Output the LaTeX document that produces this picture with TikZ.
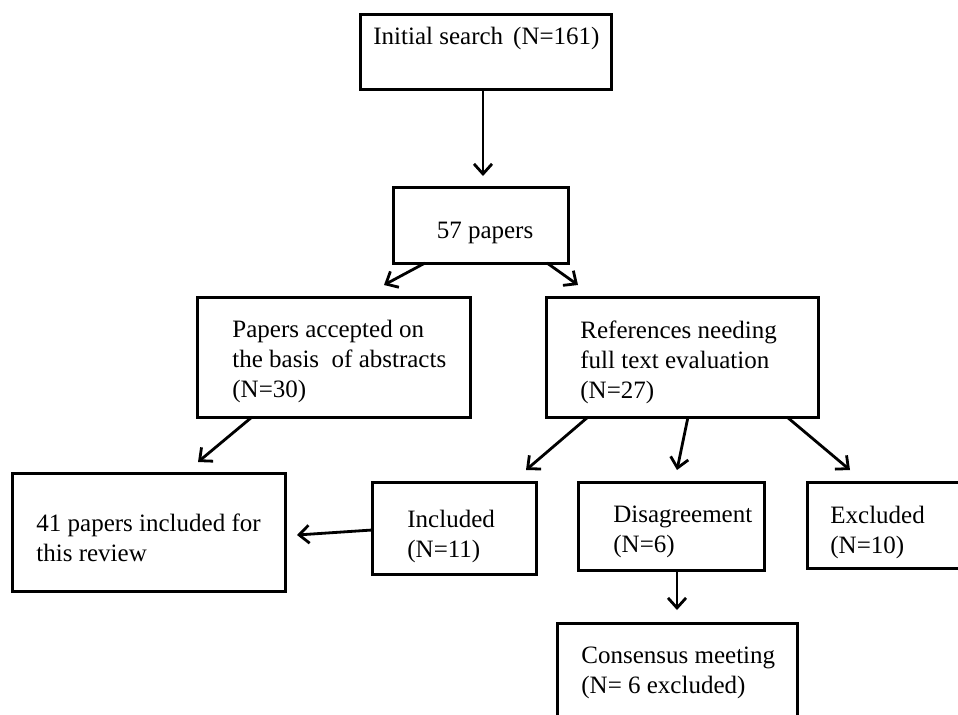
\documentclass[tikz,border=0pt]{standalone}
\usepackage{fontspec}
\setmainfont{Liberation Serif}
\usetikzlibrary{arrows.meta,positioning}

\begin{document}
\begin{tikzpicture}[x=0.5pt,y=-0.5pt,
  font=\fontsize{12.5}{15}\selectfont,
  box/.style={draw,line width=1.5pt,rectangle,inner sep=0pt,outer sep=0pt,anchor=north west},
  txt/.style={inner sep=0pt,align=left,anchor=west},
  arr/.style={-{Straight Barb[length=5pt,width=9pt]},line width=1.4pt}]
  \useasboundingbox (0,0) rectangle (958,714);
  \clip (0,0) rectangle (958,714);
  % boxes: name/left/top/width/height (px)
  \foreach \n/\x/\y/\w/\h in {
    init/360/14/251/75,
    p57/393/187/175/76,
    accepted/197/297/273/120,
    fulltext/546/297/272/120,
    review/12/473/273/118,
    incl/372/482/164/92,
    disagree/578/482/186/88,
    excl/807/482/183/86,
    consensus/557/623/240/110
  }{
    \node[box,minimum width={\w*0.5pt},minimum height={\h*0.5pt}] (\n) at (\x,\y) {};
  }
  % texts
  \node[txt] (tinit) at (373,38) {Initial search\hspace{0.4em}(N=161)};
  \node (tp57) at (485,233) {57 papers};
  \node[txt] (taccepted) at (232,361) {Papers accepted on\\the basis~ of abstracts\\(N=30)};
  \node[txt] (tfulltext) at (580,362) {References needing\\full text evaluation\\(N=27)};
  \node[txt] (treview) at (36,538) {41 papers included for\\this review};
  \node[txt] (tincl) at (407,536) {Included\\(N=11)};
  \node[txt] (tdisagree) at (613,532) {Disagreement\\(N=6)};
  \node[txt] (texcl) at (830,532) {Excluded\\(N=10)};
  \node[txt] (tconsensus) at (581,673) {Consensus meeting\\(N= 6 excluded)};
  % connectors
  \draw[arr] ([xshift=-1.25pt]init.south) -- ([shift={(90,-11)}]p57.north west);
  \draw[arr] ([shift={(32,0)}]p57.south west) -- ([shift={(187,-12)}]accepted.north west);
  \draw[arr] ([shift={(-21,0)}]p57.south east) -- ([shift={(32,-12)}]fulltext.north west);
  \draw[arr] ([shift={(55,0)}]accepted.south west) -- ([shift={(186,-11)}]review.north west);
  \draw[arr] ([shift={(42,0)}]fulltext.south west) -- ([shift={(-10,-12)}]incl.north east);
  \draw[arr] ([shift={(142,0)}]fulltext.south west) -- ([shift={(99,-12)}]disagree.north west);
  \draw[arr] ([shift={(-31,0)}]fulltext.south east) -- ([shift={(43,-12)}]excl.north west);
  \draw[arr] ([shift={(0,2)}]incl.west) -- ([shift={(12,3)}]review.east);
  \draw[arr] ([shift={(99,0)}]disagree.south west) -- ([shift={(120,-13)}]consensus.north west);
\end{tikzpicture}
\end{document}
